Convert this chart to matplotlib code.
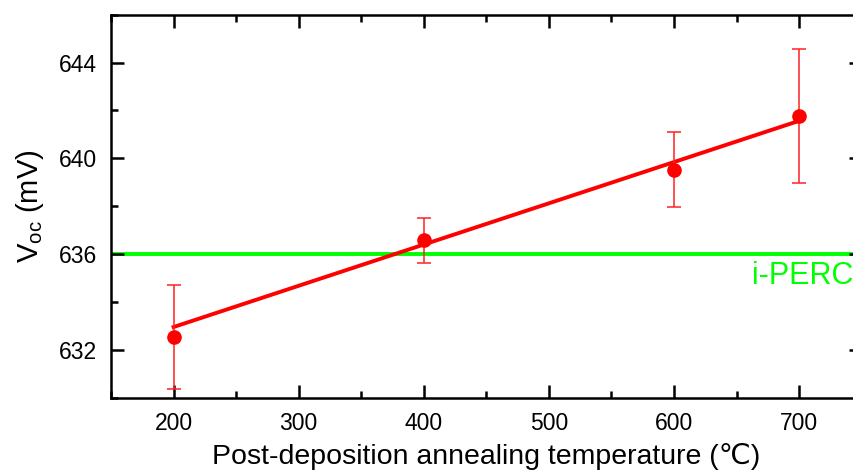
import matplotlib
matplotlib.use("Agg")
import matplotlib.pyplot as plt
import numpy as np
from matplotlib.ticker import MultipleLocator

plt.rcParams["font.family"] = ["Liberation Sans", "DejaVu Sans"]
plt.rcParams["mathtext.fontset"] = "custom"
plt.rcParams["mathtext.rm"] = "Liberation Sans"

# annealing temperature (°C) and Voc (mV) with error bars
temperatura = np.array([200, 400, 600, 700], dtype=float)
voc = np.array([632.53, 636.57, 639.53, 641.78])
voc_err = np.array([2.17, 0.94, 1.55, 2.80])
voc_referencia = 636.0  # i-PERC
etiqueta_ref = "i-PERC"

fig = plt.figure(figsize=(8.54, 4.75), dpi=100)
ax = fig.add_axes([0.130, 0.1627, 0.8789, 0.8063])

# linea de referencia
ax.axhline(voc_referencia, color="#00ff00", linewidth=2.8, zorder=1)
ax.text(662, 635.1, etiqueta_ref, color="#00ff00", fontsize=22,
        ha="left", va="center")

# ajuste lineal ponderado
coef = np.polyfit(temperatura, voc, 1, w=1.0 / voc_err)
x_fit = np.array([temperatura.min(), temperatura.max()])
ax.plot(x_fit, np.polyval(coef, x_fit), color="red", linewidth=2.8, zorder=2)

ax.errorbar(temperatura, voc, yerr=voc_err, fmt="o", color="red",
            markersize=9.5, ecolor="#ff2020", elinewidth=1.1,
            capsize=5, capthick=1.1, zorder=3)

ax.set_xlim(150, 750)
ax.set_ylim(630, 646)
ax.xaxis.set_major_locator(MultipleLocator(100))
ax.xaxis.set_minor_locator(MultipleLocator(50))
ax.yaxis.set_major_locator(MultipleLocator(4))
ax.yaxis.set_minor_locator(MultipleLocator(2))

ax.tick_params(which="both", direction="in", top=True, right=True, width=1.8)
ax.tick_params(which="major", length=9.5, labelsize=16.5, pad=10)
ax.tick_params(which="minor", length=5)
for spine in ax.spines.values():
    spine.set_linewidth(1.8)

ax.set_xlabel("Post-deposition annealing temperature (\u2103)", fontsize=20.5,
              labelpad=6)
ax.set_ylabel(r"V$_{\mathregular{oc}}$ (mV)", fontsize=21, labelpad=9)

fig.savefig("out.png", dpi=100)
